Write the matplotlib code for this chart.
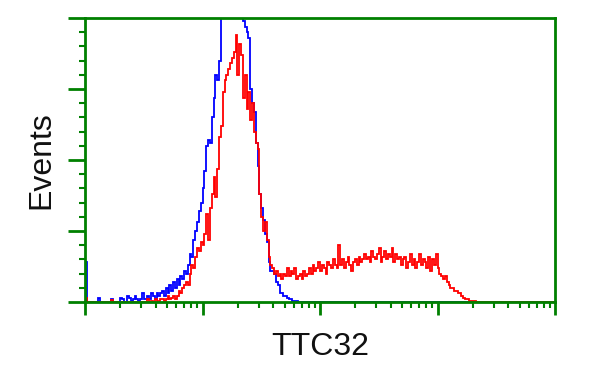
import numpy as np
import matplotlib
matplotlib.use("Agg")
import matplotlib.pyplot as plt
from matplotlib.ticker import LogLocator, MultipleLocator, NullFormatter

# 256 log-spaced channels across 4 decades (1 .. 10^4)
n_channels = 256
decades = 4

blue_counts = [
    14, 0, 0, 0, 0, 0, 0, 1.5, 0, 0, 0, 0, 0, 0, 1, 0,
    0, 0, 0, 1.5, 1, 0, 0, 2, 1.5, 0.5, 1, 2, 1, 0.5, 1, 3,
    1, 1, 2, 1, 3, 2, 1, 3, 2, 3, 4, 2, 5, 3, 6, 4,
    7, 5, 8, 6, 9, 8, 11, 10, 13, 17, 16, 22, 25, 28, 32, 35,
    40, 46, 55, 57, 56, 65, 72, 80, 78, 85, 130, 150, 160, 170, 175, 170,
    160, 150, 130, 115, 108, 105, 99, 97, 95, 93, 75, 70, 67, 56, 48, 38,
    33, 29, 24, 21, 14, 11, 11, 10, 7, 6, 3, 3, 2, 2, 1.5, 1,
    1, 0.5, 0.5, 0.3, 0, 0, 0, 0, 0, 0, 0, 0, 0, 0, 0, 0,
] + [0] * 128

red_counts = [
    1.5, 0, 0, 0, 0, 0, 0, 0, 0, 0, 0, 0, 0, 0, 0.8, 0,
    0, 0, 0, 0, 0, 0, 0, 0, 0, 0, 0, 0, 0, 0, 0, 0,
    0, 0, 1, 0, 0.5, 0, 1, 0.5, 0.5, 1, 1, 0.5, 1, 2, 1, 1.5,
    2, 1, 2, 4, 3, 5, 6, 7, 6, 10, 13, 12, 16, 19, 18, 21,
    20, 24, 31, 22, 33, 38, 44, 37, 47, 58, 62, 74, 78, 80, 82, 84,
    86, 88, 94, 80, 91, 87, 72, 80, 68, 74, 64, 70, 60, 56, 54, 38,
    30, 25, 28, 22, 16, 13, 12, 10, 11, 9, 10, 8, 10, 9, 12, 9,
    11, 10, 12, 8, 9, 10, 8, 11, 9, 10, 12, 10, 13, 11, 12, 14,
    11, 13, 12, 10, 14, 13, 12, 15, 13, 12, 20, 13, 15, 12, 14, 16,
    13, 11, 14, 15, 13, 16, 14, 15, 17, 15, 16, 14, 18, 16, 15, 17,
    19, 14, 16, 18, 15, 17, 16, 19, 14, 17, 15, 16, 13, 15, 16, 12,
    14, 17, 13, 15, 12, 14, 17, 13, 15, 14, 12, 16, 11, 15, 13, 17,
    12, 10, 9, 8, 9, 7, 6, 5, 5, 4, 4, 3, 3, 2, 1.5, 1,
    1, 0.5, 0.5, 0.5, 0.5, 0, 0, 0, 0, 0, 0, 0, 0, 0, 0, 0,
] + [0] * 32

x_label = "TTC32"
y_label = "Events"

edges = 10 ** (decades * np.arange(n_channels + 1) / n_channels)

green = "#008000"
plt.rcParams['font.family'] = ['Liberation Sans', 'DejaVu Sans']

fig = plt.figure(figsize=(6, 3.75), dpi=100)
ax = fig.add_axes([85 / 600, (375 - 302) / 375, (555 - 85) / 600, (302 - 18) / 375])

ax.stairs(blue_counts, edges, color="#0000ff", linewidth=1.3)
ax.stairs(red_counts, edges, color="#ff0000", linewidth=1.3)

ax.set_xscale("log")
ax.set_xlim(1, 10 ** decades)
ax.set_ylim(0, 100)

ax.xaxis.set_major_locator(LogLocator(base=10, numticks=10))
ax.xaxis.set_minor_locator(LogLocator(base=10, subs=np.arange(2, 10), numticks=100))
ax.xaxis.set_major_formatter(NullFormatter())
ax.xaxis.set_minor_formatter(NullFormatter())
ax.yaxis.set_major_locator(MultipleLocator(25))
ax.yaxis.set_minor_locator(MultipleLocator(5))
ax.yaxis.set_major_formatter(NullFormatter())

for s in ax.spines.values():
    s.set_color(green)
    s.set_linewidth(2)

ax.tick_params(axis="x", which="major", direction="out", length=9, width=2, color=green)
ax.tick_params(axis="x", which="minor", direction="out", length=4, width=1.5, color=green)
ax.tick_params(axis="y", which="major", direction="out", length=12, width=2, color=green)
ax.tick_params(axis="y", which="minor", direction="out", length=4, width=1.5, color=green)

ax.set_xlabel(x_label, fontsize=23, labelpad=9, color="#111111")
ax.set_ylabel(y_label, fontsize=23, labelpad=5, color="#111111")

fig.savefig("out.png", dpi=100, facecolor="white")
